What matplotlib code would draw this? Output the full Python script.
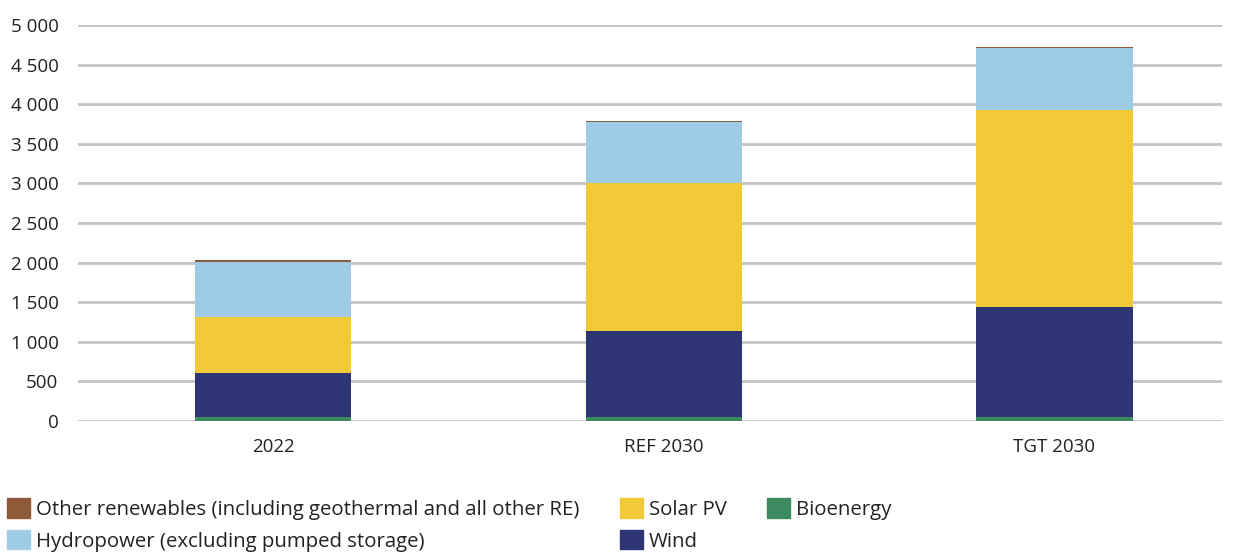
import numpy as np
import matplotlib.pyplot as plt
from matplotlib.patches import Patch

plt.rcParams['font.family'] = ['Open Sans', 'DejaVu Sans']

categories = ['2022', 'REF 2030', 'TGT 2030']
bioenergy = [50, 55, 55]
wind = [550, 1085, 1380]
solar = [715, 1865, 2490]
hydro = [695, 770, 780]
other = [18, 16, 13]

c_bio = '#3e8a5f'
c_wind = '#2e3575'
c_solar = '#f2c937'
c_hydro = '#9ecbe5'
c_other = '#8f5a3a'

fig = plt.figure(figsize=(12.36, 5.52), dpi=100)
ax = fig.add_axes([0.063, 0.2373, 0.926, 0.7174])

x = np.arange(len(categories))
w = 0.4
bottom = np.zeros(len(categories))
for vals, col in [(bioenergy, c_bio), (wind, c_wind), (solar, c_solar),
                  (hydro, c_hydro), (other, c_other)]:
    ax.bar(x, vals, w, bottom=bottom, color=col, zorder=3)
    bottom += np.array(vals)

ax.set_ylim(0, 5000)
ax.set_xlim(-0.5, 2.43)
ax.set_yticks(np.arange(0, 5001, 500))
ax.set_yticklabels([f'{v:,}'.replace(',', ' ') for v in range(0, 5001, 500)])
ax.set_xticks(x)
ax.set_xticklabels(categories)
ax.yaxis.grid(True, color='#c4c4c6', linewidth=2, zorder=0)
for s in ax.spines.values():
    s.set_visible(False)
ax.tick_params(axis='both', length=0, labelsize=13.5, colors='#222222')
ax.tick_params(axis='y', pad=14)
ax.tick_params(axis='x', pad=12)

handles = [Patch(color=c_other), Patch(color=c_hydro), Patch(color=c_solar),
           Patch(color=c_wind), Patch(color=c_bio)]
labels = ['Other renewables (including geothermal and all other RE)',
          'Hydropower (excluding pumped storage)', 'Solar PV', 'Wind', 'Bioenergy']
fig.legend(handles, labels, ncol=3, loc='upper left', bbox_to_anchor=(0.006, 0.098),
           frameon=False, fontsize=14.7, handlelength=1.1, handleheight=1.1,
           handletextpad=0.3, columnspacing=2.0, labelspacing=0.5,
           labelcolor='#222222', borderaxespad=0, borderpad=0)

fig.savefig('out.png', dpi=100)
